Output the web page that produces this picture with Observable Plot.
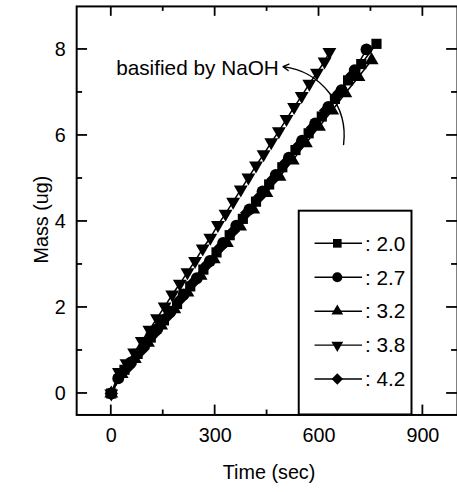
<!DOCTYPE html>
<html><head><meta charset="utf-8">
<script src="https://cdn.jsdelivr.net/npm/d3@7"></script>
<script src="https://cdn.jsdelivr.net/npm/@observablehq/plot@0.6"></script>
<style>
body{margin:0;overflow:hidden;background:#fff}
#chart{width:457px;height:492px;overflow:hidden}
</style></head><body><div id="chart"></div>
<script>
// ---- data ----
const seriesNames = ["2.0", "2.7", "3.2", "3.8", "4.2"];

const t20 = [0, 38, 76, 114, 152, 190, 228, 266, 304, 342, 380, 418, 456, 494, 532, 570, 608, 646, 684, 722, 766];
const m20 = [0, 0.55, 0.92, 1.30, 1.70, 2.08, 2.49, 2.88, 3.28, 3.68, 4.06, 4.46, 4.86, 5.26, 5.66, 6.05, 6.44, 6.85, 7.28, 7.66, 8.13];

const t27 = [0, 20, 57, 95, 133, 171, 209, 247, 285, 323, 361, 399, 437, 475, 513, 551, 589, 627, 665, 703, 737];
const m27 = [0, 0.35, 0.72, 1.10, 1.50, 1.90, 2.30, 2.68, 3.08, 3.50, 3.90, 4.28, 4.70, 5.08, 5.48, 5.88, 6.28, 6.66, 7.05, 7.52, 8.00];

const t32 = [0, 30, 68, 106, 144, 182, 220, 258, 296, 334, 372, 410, 448, 486, 524, 562, 600, 638, 676, 714, 752];
const m32 = [0, 0.45, 0.80, 1.18, 1.58, 1.96, 2.35, 2.74, 3.12, 3.50, 3.88, 4.28, 4.66, 5.04, 5.42, 5.82, 6.20, 6.58, 6.98, 7.36, 7.75];

const t38 = [0, 22, 44, 66, 88, 110, 132, 154, 176, 198, 220, 242, 264, 286, 308, 330, 352, 374, 396, 418, 440, 462, 484, 506, 528, 550, 572, 594, 616, 630];
const m38 = [0, 0.50, 0.70, 0.95, 1.22, 1.48, 1.75, 2.02, 2.30, 2.55, 2.82, 3.08, 3.37, 3.62, 3.92, 4.18, 4.46, 4.74, 5.02, 5.30, 5.56, 5.84, 6.10, 6.38, 6.66, 6.92, 7.20, 7.46, 7.72, 7.94];

const t42 = [0, 25, 50, 87, 125, 163, 201, 239, 277, 315, 353, 391, 429, 467, 505, 543, 581, 619, 657, 695];
const m42 = [0, 0.42, 0.62, 1.00, 1.40, 1.80, 2.20, 2.60, 3.00, 3.40, 3.78, 4.20, 4.58, 4.98, 5.38, 5.78, 6.18, 6.58, 6.98, 7.40];

const xMajor = [0, 300, 600, 900];
const xMinor = [150, 450, 750];
const yMajor = [0, 2, 4, 6, 8];
const yMinor = [1, 3, 5, 7];
const xTitle = "Time (sec)";
const yTitle = "Mass (ug)";
const annotationText = "basified by NaOH";

// ---- build table ----
const times = [t20, t27, t32, t38, t42];
const masses = [m20, m27, m32, m38, m42];
const rows = seriesNames.flatMap((s, i) => times[i].map((t, j) => ({s, t, m: masses[i][j]})));

// marker styles per series
const markerStyle = {
  "2.0": {symbol: "square", rotate: 0, r: 5.8},
  "2.7": {symbol: "circle", rotate: 0, r: 6},
  "3.2": {symbol: "triangle", rotate: 0, r: 5.2},
  "3.8": {symbol: "triangle", rotate: 180, r: 5.2},
  "4.2": {symbol: "square", rotate: 45, r: 5.4}
};

const FONT = "'Liberation Sans', Arial, Helvetica, sans-serif";
const W = 462, H = 492, mL = 77, mR = 0, mT = 6, mB = 73;
const xDom = [-100, 1000], yDom = [-0.5, 9];
const majorLen = 10, minorLen = 5;

const dotMarks = seriesNames.map(s => Plot.dot(rows.filter(d => d.s === s), {
  x: "t", y: "m", symbol: markerStyle[s].symbol, rotate: markerStyle[s].rotate,
  r: markerStyle[s].r, fill: "black", stroke: "none"
}));

const plot = Plot.plot({
  width: W, height: H,
  marginLeft: mL, marginRight: mR, marginTop: mT, marginBottom: mB,
  style: {fontFamily: FONT, fontSize: "20px", background: "white", color: "black"},
  x: {domain: xDom, axis: null},
  y: {domain: yDom, axis: null},
  marks: [
    // tick labels
    Plot.text(xMajor, {x: d => d, frameAnchor: "bottom", lineAnchor: "top", dy: 13, fontSize: 20}),
    Plot.text(yMajor, {y: d => d, frameAnchor: "left", textAnchor: "end", dx: -11, fontSize: 20}),
    // data
    Plot.line(rows, {x: "t", y: "m", z: "s", stroke: "black", strokeWidth: 1.5}),
    ...dotMarks,
    // annotation
    Plot.text([annotationText], {text: d => d, x: 14, y: 7.56, textAnchor: "start", fontSize: 21}),
    Plot.arrow([annotationText], {x1: 671, y1: 5.79, x2: 496, y2: 7.6, bend: -45, stroke: "black", strokeWidth: 1.4, headLength: 7}),
    Plot.frame({stroke: "black", strokeWidth: 2})
  ]
});

const svg = d3.select(plot);
const sx = plot.scale("x"), sy = plot.scale("y");
const frameL = mL, frameR = W - mR, frameT = mT, frameB = H - mB;

// ---- inward ticks on all four sides, placed through the Plot scales ----
const tg = svg.append("g").attr("stroke", "black").attr("stroke-width", 1.8);
const addXTicks = (vals, len) => vals.forEach(v => {
  const px = sx.apply(v);
  tg.append("line").attr("x1", px).attr("x2", px).attr("y1", frameB).attr("y2", frameB - len);
  tg.append("line").attr("x1", px).attr("x2", px).attr("y1", frameT).attr("y2", frameT + len);
});
const addYTicks = (vals, len) => vals.forEach(v => {
  const py = sy.apply(v);
  tg.append("line").attr("y1", py).attr("y2", py).attr("x1", frameL).attr("x2", frameL + len);
  tg.append("line").attr("y1", py).attr("y2", py).attr("x1", frameR).attr("x2", frameR - len);
});
addXTicks(xMajor, majorLen); addXTicks(xMinor, minorLen);
addYTicks(yMajor, majorLen + 1); addYTicks(yMinor, minorLen + 1);

// ---- axis titles ----
svg.append("text").attr("x", 272).attr("y", 484)
  .attr("text-anchor", "middle").attr("font-family", FONT).attr("font-size", 20).attr("fill", "black")
  .text(xTitle);
svg.append("text").attr("transform", "translate(49,222) rotate(-90)")
  .attr("text-anchor", "middle").attr("font-family", FONT).attr("font-size", 20).attr("fill", "black")
  .text(yTitle);

// ---- legend box drawn inside the frame ----
const box = {x0: 302, x1: 416, y0: 213, y1: frameB};
const lg = svg.append("g");
lg.append("rect").attr("x", box.x0).attr("y", box.y0)
  .attr("width", box.x1 - box.x0).attr("height", box.y1 - box.y0)
  .attr("fill", "white").attr("stroke", "black").attr("stroke-width", 2);
const symMap = {square: d3.symbolSquare, circle: d3.symbolCircle, triangle: d3.symbolTriangle};
seriesNames.forEach((s, i) => {
  const cy = 246 + i * 34.3;
  const st = markerStyle[s];
  lg.append("line").attr("x1", 318).attr("x2", 366).attr("y1", cy).attr("y2", cy)
    .attr("stroke", "black").attr("stroke-width", 1.5);
  lg.append("path")
    .attr("d", d3.symbol(symMap[st.symbol], Math.pow(st.r * 0.85, 2) * Math.PI)())
    .attr("transform", `translate(341,${cy}) rotate(${st.rotate})`)
    .attr("fill", "black");
  lg.append("text").attr("x", 369).attr("y", cy).attr("dy", "0.35em")
    .attr("text-anchor", "start")
    .attr("font-family", FONT).attr("font-size", 21).attr("fill", "black")
    .text(": " + s);
});

document.getElementById("chart").appendChild(plot);
</script>
</body></html>
